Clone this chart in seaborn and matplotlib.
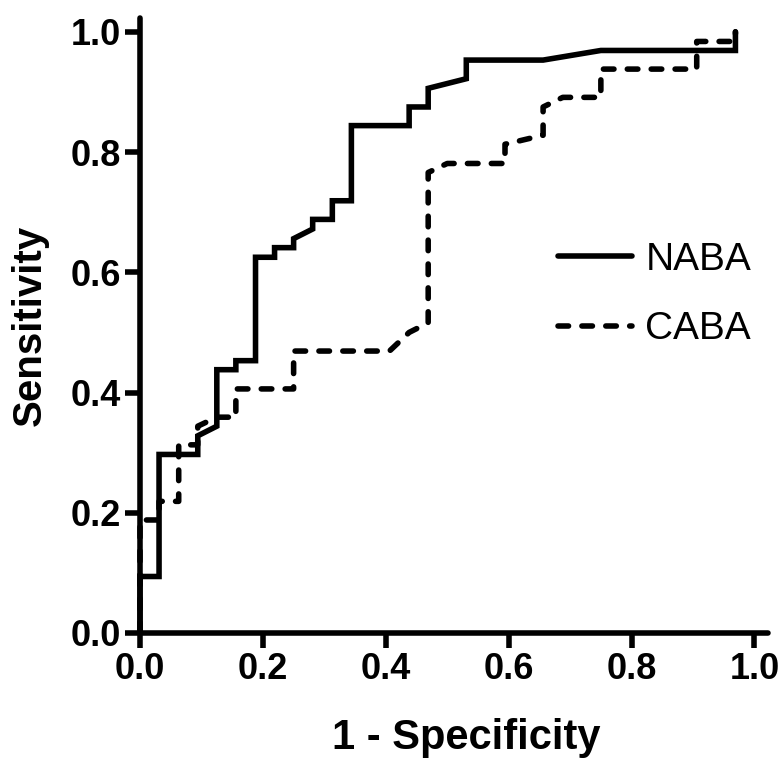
import matplotlib
matplotlib.use("Agg")
import matplotlib.pyplot as plt
import seaborn as sns

# ROC points (1 - specificity, sensitivity)
naba_fpr = [0, 0, 0.031, 0.031, 0.094, 0.094, 0.125, 0.125, 0.156, 0.156,
            0.188, 0.188, 0.219, 0.219, 0.25, 0.25, 0.281, 0.281, 0.313, 0.313,
            0.344, 0.344, 0.438, 0.438, 0.469, 0.469, 0.531, 0.531, 0.656, 0.75,
            0.969, 0.969]
naba_tpr = [0, 0.094, 0.094, 0.297, 0.297, 0.328, 0.344, 0.438, 0.438, 0.453,
            0.453, 0.625, 0.625, 0.641, 0.641, 0.656, 0.672, 0.688, 0.688, 0.719,
            0.719, 0.844, 0.844, 0.875, 0.875, 0.906, 0.922, 0.953, 0.953, 0.969,
            0.969, 1.0]

caba_fpr = [0, 0, 0.031, 0.031, 0.063, 0.063, 0.094, 0.094, 0.125, 0.156,
            0.156, 0.25, 0.25, 0.406, 0.438, 0.469, 0.469, 0.5, 0.594, 0.594,
            0.656, 0.656, 0.688, 0.75, 0.75, 0.906, 0.906, 0.969, 0.969]
caba_tpr = [0, 0.188, 0.188, 0.219, 0.219, 0.313, 0.313, 0.344, 0.359, 0.359,
            0.406, 0.406, 0.469, 0.469, 0.5, 0.516, 0.766, 0.781, 0.781, 0.813,
            0.828, 0.875, 0.891, 0.891, 0.938, 0.938, 0.984, 0.984, 1.0]

ticks = [0.0, 0.2, 0.4, 0.6, 0.8, 1.0]
tick_labels = ["0.0", "0.2", "0.4", "0.6", "0.8", "1.0"]

sns.set_style("ticks")
plt.rcParams["font.family"] = ["Liberation Sans", "DejaVu Sans"]
plt.rcParams["text.color"] = "black"
plt.rcParams["axes.labelcolor"] = "black"
plt.rcParams["xtick.color"] = "black"
plt.rcParams["ytick.color"] = "black"

fig = plt.figure(figsize=(7.82, 7.6), dpi=100)
ax = fig.add_axes([140 / 782, 127 / 760, 628 / 782, 615 / 760])

lw = 4.0
sns.lineplot(x=naba_fpr, y=naba_tpr, sort=False, estimator=None, ax=ax,
             color="black", lw=lw, label="NABA", solid_joinstyle="miter")
sns.lineplot(x=caba_fpr, y=caba_tpr, sort=False, estimator=None, ax=ax,
             color="black", lw=lw, label="CABA", dashes=(1.9, 2.4),
             dash_capstyle="round")

ax.set_xlim(0, 1.022)
ax.set_ylim(0, 1.023)
ax.set_xticks(ticks)
ax.set_yticks(ticks)
ax.set_xticklabels(tick_labels, fontweight="bold", fontsize=26)
ax.set_yticklabels(tick_labels, fontweight="bold", fontsize=26)
ax.tick_params(length=11, width=lw, color="black", pad=3)

for side in ["top", "right"]:
    ax.spines[side].set_visible(False)
for side in ["left", "bottom"]:
    ax.spines[side].set_linewidth(lw)
    ax.spines[side].set_color("black")
    ax.spines[side].set_capstyle("round")

ax.set_xlabel("1 - Specificity", fontweight="bold", fontsize=30)
ax.set_ylabel("Sensitivity", fontweight="bold", fontsize=29)
ax.xaxis.set_label_coords(0.519, -0.138)
ax.yaxis.set_label_coords(-0.145, 0.5)

ax.legend(loc="upper left", bbox_to_anchor=(0.666, 0.636), frameon=False,
          fontsize=28, handlelength=1.9, handletextpad=0.34,
          labelspacing=0.86, borderpad=0, borderaxespad=0)

for line in ax.get_lines():
    line.set_clip_on(False)

fig.savefig("out.png", dpi=100)
